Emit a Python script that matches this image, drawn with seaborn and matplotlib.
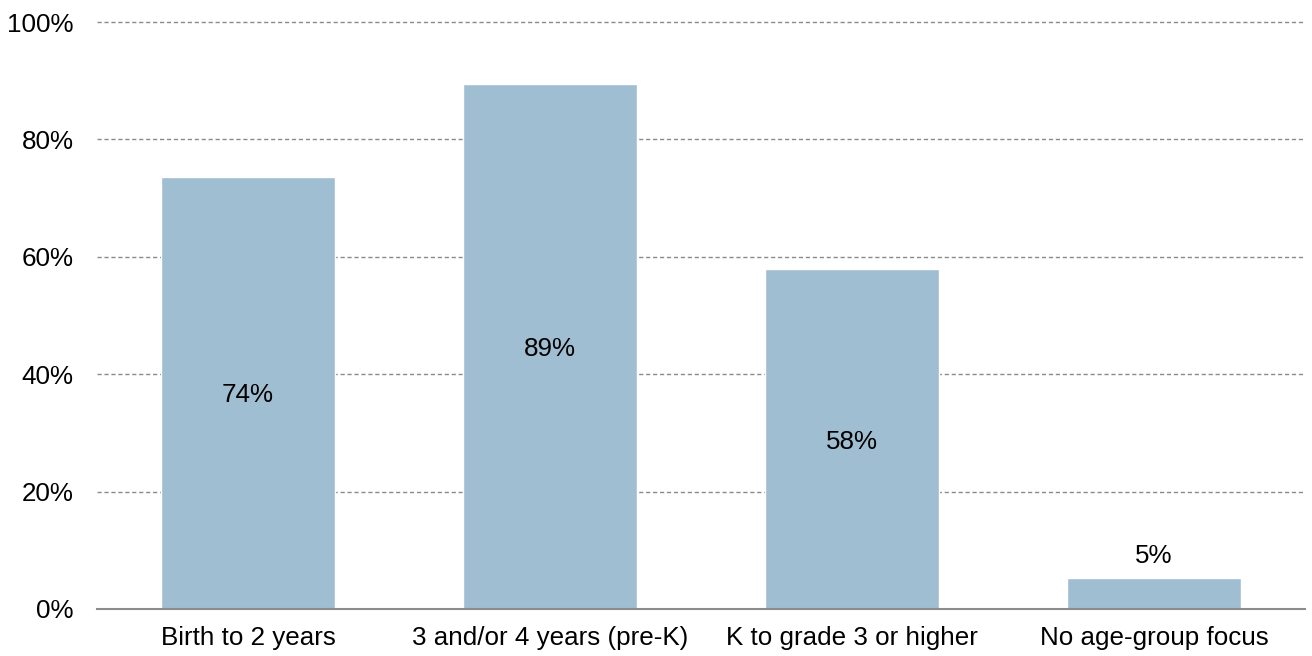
import matplotlib
matplotlib.use("Agg")
import matplotlib.pyplot as plt
import seaborn as sns
import pandas as pd

categories = ["Birth to 2 years", "3 and/or 4 years (pre-K)", "K to grade 3 or higher", "No age-group focus"]
values = [73.6, 89.4, 57.9, 5.3]
labels = ["74%", "89%", "58%", "5%"]
yticks = [0, 20, 40, 60, 80, 100]
ytick_labels = ["0%", "20%", "40%", "60%", "80%", "100%"]

sns.set_style("white")
plt.rcParams["font.family"] = ["Liberation Sans", "DejaVu Sans"]

FS = 18.7
fig = plt.figure(figsize=(13.12, 6.56), dpi=100)
ax = fig.add_axes([97/1312, 1 - 609/656, (1305 - 97)/1312, (609 - 22)/656])

df = pd.DataFrame({"cat": categories, "val": values})
sns.barplot(data=df, x="cat", y="val", color="#A0BED1", saturation=1, width=0.575, ax=ax, zorder=3)

ax.set_xlim(-0.5, 3.5)
ax.set_ylim(0, 100)
ax.set_yticks(yticks)
ax.set_yticklabels(ytick_labels, fontsize=FS, color="black")
ax.tick_params(axis="x", labelsize=FS, labelcolor="black", length=0, pad=12)
ax.tick_params(axis="y", length=0, pad=17)
ax.set_xlabel("")
ax.set_ylabel("")

for y in yticks[1:]:
    ax.axhline(y, color="#8a8a8a", linestyle=(0, (3, 2)), linewidth=1, zorder=1, clip_on=False)

for s in ["left", "right", "top"]:
    ax.spines[s].set_visible(False)
ax.spines["bottom"].set_color("#8c8c8c")
ax.spines["bottom"].set_linewidth(1.5)
ax.spines["bottom"].set_zorder(4)

for i, (v, lab) in enumerate(zip(values, labels)):
    if v > 20:
        ax.text(i, v / 2, lab, ha="center", va="center_baseline", fontsize=FS, color="black", zorder=5)
    else:
        ax.text(i, v + 1.6, lab, ha="center", va="bottom", fontsize=FS, color="black", zorder=5)

fig.savefig("out.png", dpi=100)
